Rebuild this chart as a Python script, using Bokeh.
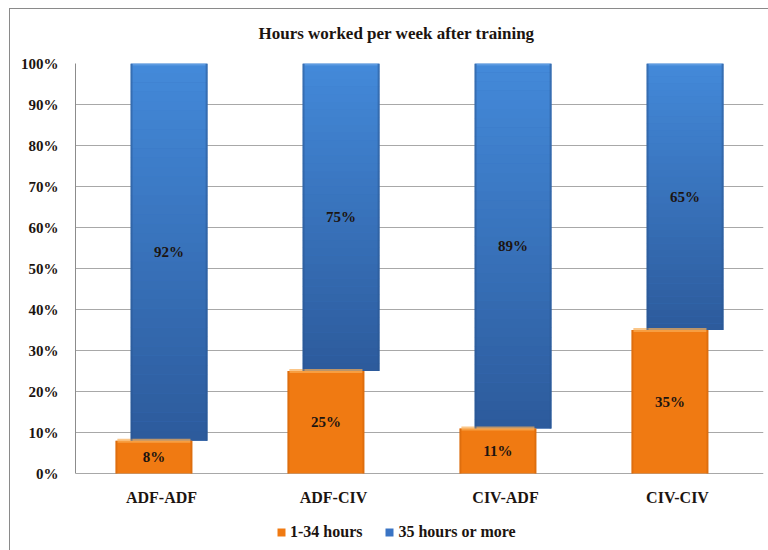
import numpy as np
from bokeh.plotting import figure
from bokeh.models import (ColumnDataSource, FactorRange, Range1d, FixedTicker,
                          Legend, LegendItem)
from bokeh.transform import dodge
from bokeh.core.properties import value
from bokeh.embed import file_html
from bokeh.resources import INLINE

# Share of respondents by weekly hours, per training pathway
categories = ["ADF-ADF", "ADF-CIV", "CIV-ADF", "CIV-CIV"]
short_hours = [8, 25, 11, 35]      # 1-34 hours
full_hours = [92, 75, 89, 65]      # 35 hours or more
series_names = ["1-34 hours", "35 hours or more"]
y_ticks = [0, 10, 20, 30, 40, 50, 60, 70, 80, 90, 100]
y_tick_labels = ["0%", "10%", "20%", "30%", "40%", "50%", "60%", "70%", "80%", "90%", "100%"]

FONT = "Liberation Serif"
TEXT = "#1c1410"
ORANGE = "#F07A12"
ORANGE_LIGHT = "#F9AE55"
ORANGE_DARK = "#D2660C"
BLUE_TOP = np.array([68, 138, 218])
BLUE_BOTTOM = np.array([45, 91, 156])
BLUE = "#3A74C4"
WIDTH = 0.445
SHIFT = 0.044

# the plot area runs down to the bottom edge so the category names and the
# legend can sit inside it, below the 0% line
Y_LOW = -18.78
p = figure(width=768, height=550, x_range=FactorRange(*categories),
           y_range=Range1d(Y_LOW, 100), output_backend="svg", toolbar_location=None,
           x_axis_location=None,
           min_border_left=75, min_border_right=5, min_border_top=63,
           min_border_bottom=0, background_fill_color="white",
           border_fill_color=None)
p.outline_line_color = None
# thin frame around the whole chart (left and top edges visible)
p.styles = {
    "background": "linear-gradient(#8a8a8a, #8a8a8a) 9px 8px / 1px 700px no-repeat, "
                  "linear-gradient(#8a8a8a, #8a8a8a) 9px 8px / 900px 1px no-repeat, white"
}

# title
p.title.text = "Hours worked per week after training"
p.title.text_font = FONT
p.title.text_font_size = "17px"
p.title.text_font_style = "bold"
p.title.text_color = TEXT
p.title.align = "left"
p.title.offset = 183
p.title.standoff = 42

src = ColumnDataSource(dict(
    cat=categories,
    short=short_hours,
    full=full_hours,
    full_bottom=short_hours,
    full_top=[s + f for s, f in zip(short_hours, full_hours)],
    short_mid=[s / 2 for s in short_hours],
    full_mid=[s + f / 2 for s, f in zip(short_hours, full_hours)],
    short_txt=[f"{s}%" for s in short_hours],
    full_txt=[f"{f}%" for f in full_hours],
))

x_short = dodge("cat", -SHIFT, range=p.x_range)
x_full = dodge("cat", SHIFT, range=p.x_range)

# 35+ hours bars: solid base, then a vertical gradient drawn in slices
blue_r = p.vbar(x=x_full, bottom="full_bottom", top="full_top", width=WIDTH,
                source=src, fill_color=BLUE, line_color=None)

N = 40
sl_cat, sl_bot, sl_top, sl_col = [], [], [], []
for cat, lo, f in zip(categories, short_hours, full_hours):
    edges = np.linspace(lo, lo + f, N + 1)
    for k in range(N):
        t = (k + 0.5) / N
        c = (BLUE_BOTTOM + (BLUE_TOP - BLUE_BOTTOM) * t).astype(int)
        sl_cat.append(cat)
        sl_bot.append(edges[k])
        sl_top.append(edges[k + 1] + 0.05)
        sl_col.append("#%02x%02x%02x" % tuple(c))
slices = ColumnDataSource(dict(cat=sl_cat, bottom=sl_bot, top=sl_top, color=sl_col))
p.vbar(x=dodge("cat", SHIFT, range=p.x_range), bottom="bottom", top="top",
       width=WIDTH, source=slices, fill_color="color", line_color=None)

# 1-34 hours bars
orange_r = p.vbar(x=x_short, bottom=0, top="short", width=WIDTH, source=src,
                  fill_color=ORANGE, line_color=None)

# bevel: light top edge, darker sides
p.segment(x0=dodge("cat", -SHIFT - WIDTH / 2 + 0.01, range=p.x_range), y0="short",
          x1=dodge("cat", -SHIFT + WIDTH / 2 - 0.01, range=p.x_range), y1="short",
          source=src, line_color=ORANGE_LIGHT, line_width=4, line_alpha=0.7)
p.segment(x0=dodge("cat", SHIFT - WIDTH / 2 + 0.01, range=p.x_range), y0="full_top",
          x1=dodge("cat", SHIFT + WIDTH / 2 - 0.01, range=p.x_range), y1="full_top",
          source=src, line_color="#6FA6E6", line_width=4, line_alpha=0.6)
for off in (-WIDTH / 2 + 0.004, WIDTH / 2 - 0.004):
    p.segment(x0=dodge("cat", -SHIFT + off, range=p.x_range), y0=0,
              x1=dodge("cat", -SHIFT + off, range=p.x_range), y1="short",
              source=src, line_color=ORANGE_DARK, line_width=2, line_alpha=0.6)
    p.segment(x0=dodge("cat", SHIFT + off, range=p.x_range), y0="full_bottom",
              x1=dodge("cat", SHIFT + off, range=p.x_range), y1="full_top",
              source=src, line_color="#2A5590", line_width=2, line_alpha=0.5)

# value labels
for xs, ys, txt in ((x_short, "short_mid", "short_txt"), (x_full, "full_mid", "full_txt")):
    p.text(x=xs, y=ys, text=txt, source=src, text_font=value(FONT),
           text_font_size="15px", text_font_style="bold", text_color=TEXT,
           text_align="center", text_baseline="middle")

# category names under the 0% line
p.text(x="cat", y=-5.9, text="cat", source=src, text_font=value(FONT),
       text_font_size="16px", text_font_style="bold", text_color=TEXT,
       text_align="center", text_baseline="middle")

# y axis and horizontal grid
p.xgrid.grid_line_color = None
p.ygrid.grid_line_color = "#A8A8A8"
p.ygrid.ticker = FixedTicker(ticks=y_ticks)
p.yaxis.ticker = FixedTicker(ticks=y_ticks)
p.yaxis.bounds = (0, 100)
p.yaxis.major_label_overrides = dict(zip(y_ticks, y_tick_labels))
p.yaxis.axis_line_color = "#8C8C8C"
p.yaxis.major_tick_line_color = None
p.yaxis.minor_tick_line_color = None
p.yaxis.major_label_text_font = FONT
p.yaxis.major_label_text_font_style = "bold"
p.yaxis.major_label_text_color = TEXT
p.yaxis.major_label_text_font_size = "15px"
p.yaxis.major_label_standoff = 11
p.x_range.range_padding = 0

# legend under the category names
legend = Legend(items=[LegendItem(label=series_names[0], renderers=[orange_r]),
                       LegendItem(label=series_names[1], renderers=[blue_r])],
                orientation="horizontal", location=(201, 8),
                label_text_font=FONT, label_text_font_size="16px",
                label_text_font_style="bold", label_text_color=TEXT,
                glyph_width=10, glyph_height=10, label_standoff=4, spacing=22,
                padding=0, margin=0, border_line_color=None,
                background_fill_alpha=0, label_height=20)
p.add_layout(legend, "center")

open("out.html", "w").write(file_html(p, INLINE))
